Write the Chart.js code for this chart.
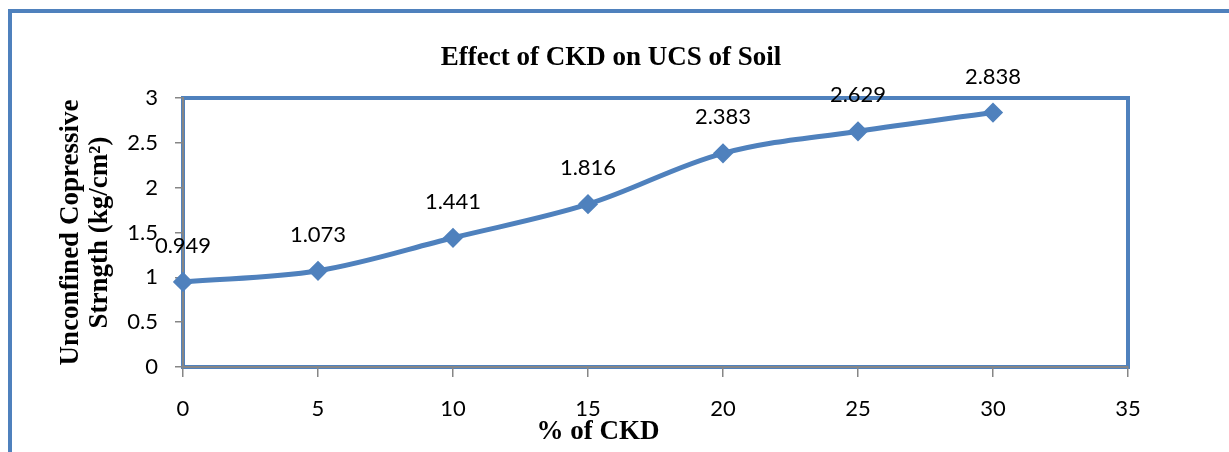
<!DOCTYPE html>
<html>
<head>
<meta charset="utf-8">
<script src="https://cdn.jsdelivr.net/npm/chart.js@4/dist/chart.umd.min.js"></script>
<style>
  html, body { margin: 0; padding: 0; background: #fff; }
  #wrap { width: 1229px; height: 452px; position: relative; }
</style>
</head>
<body>
<div id="wrap"><canvas id="plot1"></canvas></div>
<script>
// datos de la grafica
const ckd = [0, 5, 10, 15, 20, 25, 30];
const ucs = [0.949, 1.073, 1.441, 1.816, 2.383, 2.629, 2.838];
const tituloGrafica = 'Effect of CKD on UCS of Soil';
const tituloX = '% of CKD';
const tituloY = ['Unconfined Copressive', 'Strngth (kg/cm²)'];

const azul = '#4F81BD';
const gris = '#868686';
const fuenteNum = 'Lato, "Open Sans", sans-serif';
const fuenteTitulo = '"Liberation Serif", "Times New Roman", serif';

// marco exterior, borde del area de la grafica
const marcos = {
    id: 'marcos',
    beforeDraw(chart) {
        const c = chart.ctx;
        const a = chart.chartArea;
        c.save();
        c.strokeStyle = azul;
        c.lineWidth = 4;
        c.beginPath();
        c.moveTo(10, 452);
        c.lineTo(10, 11);
        c.lineTo(1229, 11);
        c.stroke();
        c.strokeRect(a.left, a.top, a.right - a.left, a.bottom - a.top);
        c.restore();
    }
};

// titulo y titulo del eje x (no estan centrados en el area de la grafica)
const titulos = {
    id: 'titulos',
    afterDraw(chart) {
        const c = chart.ctx;
        c.save();
        c.font = 'bold 27px ' + fuenteTitulo;
        c.fillStyle = '#000';
        c.textAlign = 'center';
        c.textBaseline = 'middle';
        c.fillText(tituloGrafica, 611, 58);
        c.fillText(tituloX, 598, 432);
        c.restore();
    }
};

// etiquetas con el valor encima de cada punto
const etiquetas = {
    id: 'etiquetas',
    afterDatasetsDraw(chart) {
        const c = chart.ctx;
        const meta = chart.getDatasetMeta(0);
        c.save();
        c.font = '22px ' + fuenteNum;
        c.fillStyle = '#000';
        c.textAlign = 'center';
        c.textBaseline = 'middle';
        meta.data.forEach((p, i) => {
            c.fillText(ucs[i].toFixed(3), p.x, p.y - 36);
        });
        c.restore();
    }
};

let ctx = document.getElementById('plot1').getContext('2d');

let data = {
    datasets: [{
        label: 'UCS',
        data: ckd.map((x, i) => ({ x: x, y: ucs[i] })),
        borderColor: azul,
        backgroundColor: azul,
        borderWidth: 5,
        tension: 0.35,
        pointStyle: 'rectRot',
        pointRadius: 8,
        pointBorderWidth: 3,
        pointBorderColor: azul,
        pointBackgroundColor: azul,
        clip: false
    }]
};

let config = {
    responsive: true,
    maintainAspectRatio: false,
    animation: false,
    layout: { padding: { left: 0, right: 101, top: 98, bottom: 0 } },
    plugins: {
        legend: { display: false },
        tooltip: { enabled: false },
        title: { display: false }
    },
    scales: {
        x: {
            type: 'linear',
            min: 0,
            max: 35,
            afterFit: (s) => { s.height = 85; },
            ticks: {
                stepSize: 5,
                color: '#000',
                font: { family: fuenteNum, size: 22 },
                padding: 19
            },
            grid: { drawOnChartArea: false, drawTicks: true, tickLength: 10, color: gris, lineWidth: 1.5 },
            border: { color: gris, width: 2 }
        },
        y: {
            min: 0,
            max: 3,
            afterFit: (s) => { s.width = 183; },
            ticks: {
                stepSize: 0.5,
                color: '#000',
                font: { family: fuenteNum, size: 22 },
                padding: 17,
                callback: (v) => String(v)
            },
            grid: { drawOnChartArea: false, drawTicks: true, tickLength: 8, color: gris, lineWidth: 1.5 },
            border: { color: gris, width: 2 },
            title: {
                display: true,
                text: tituloY,
                color: '#000',
                font: { family: fuenteTitulo, size: 27, weight: 'bold', lineHeight: 1.07 },
                padding: { top: 57, bottom: 0 }
            }
        }
    }
};

let grafica1 = new Chart(ctx, {
    type: 'line',
    data: data,
    options: config,
    plugins: [marcos, etiquetas, titulos]
});
</script>
</body>
</html>
